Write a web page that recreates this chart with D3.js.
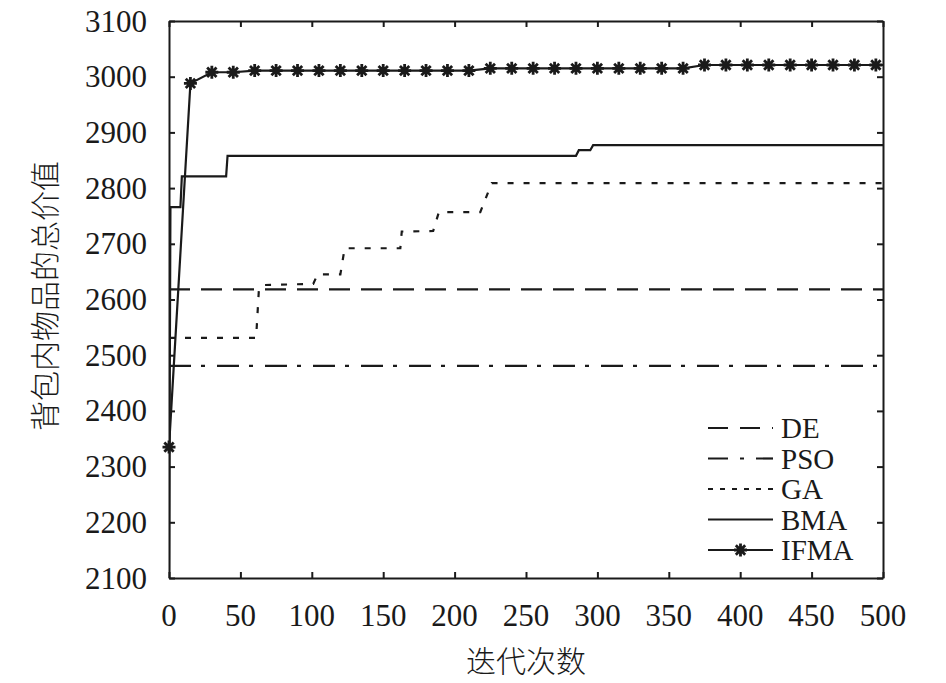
<!DOCTYPE html>
<html>
<head>
<meta charset="utf-8">
<script src="https://cdn.jsdelivr.net/npm/d3@7"></script>
<style>
  body { margin: 0; background: #fff; }
  .tick-label { font-family: "Liberation Serif", "Times New Roman", serif; font-size: 31px; fill: #1a1a1a; }
  .legend-label { font-family: "Liberation Serif", "Times New Roman", serif; font-size: 29px; fill: #1a1a1a; }
  .axis-title { font-family: "Noto Sans CJK SC", sans-serif; font-weight: 300; font-size: 30px; fill: #1a1a1a; }
  .curve { fill: none; stroke: #1a1a1a; stroke-width: 2.2; }
</style>
</head>
<body>
<script>
'use strict';

// x ticks and y ticks as they appear on the figure
const xTicks = [0, 50, 100, 150, 200, 250, 300, 350, 400, 450, 500];
const yTicks = [2100, 2200, 2300, 2400, 2500, 2600, 2700, 2800, 2900, 3000, 3100];

// series as [iteration, value]
const deValues  = [[0, 2618], [500, 2618]];
const psoValues = [[0, 2481], [500, 2481]];
const gaValues  = [[0, 2531], [61, 2531], [63, 2620], [66, 2626], [101, 2628], [104, 2645],
                   [120, 2645], [123, 2692], [162, 2692], [163, 2722], [185, 2723], [189, 2757],
                   [218, 2757], [226, 2809], [500, 2809]];
const bmaValues = [[0, 2100], [1, 2766], [8, 2766], [9, 2821], [40, 2821], [41, 2858],
                   [285, 2858], [287, 2868], [295, 2868], [297, 2877], [500, 2877]];
// IFMA was sampled every 15 iterations (one marker each), plus the end point
const ifmaIters  = [0, 15, 30, 45, 60, 75, 90, 105, 120, 135, 150, 165, 180, 195, 210, 225,
                    240, 255, 270, 285, 300, 315, 330, 345, 360, 375, 390, 405, 420, 435, 450,
                    465, 480, 495, 500];
const ifmaValues = [2335, 2988, 3008, 3008, 3011, 3011, 3011, 3011, 3011, 3011, 3011, 3011,
                    3011, 3011, 3011, 3015, 3015, 3015, 3015, 3015, 3015, 3015, 3015, 3015,
                    3015, 3021, 3021, 3021, 3021, 3021, 3021, 3021, 3021, 3021, 3021];

const seriesNames = ["DE", "PSO", "GA", "BMA", "IFMA"];

const width = 946, height = 683;
const plotLeft = 169, plotRight = 883, plotTop = 21, plotBottom = 578;

const x = d3.scaleLinear([0, 500], [plotLeft, plotRight]);
const y = d3.scaleLinear([2100, 3100], [plotBottom, plotTop]);

const svg = d3.select("body").append("svg")
  .attr("width", width)
  .attr("height", height);

svg.append("defs").append("clipPath")
  .attr("id", "plot-clip")
  .append("rect")
  .attr("x", plotLeft).attr("y", plotTop)
  .attr("width", plotRight - plotLeft).attr("height", plotBottom - plotTop);

const line = d3.line(d => x(d[0]), d => y(d[1]));

const styles = {
  DE:   { dash: "21,11", legendDash: "20,12" },
  PSO:  { dash: "22,10,4,12", legendDash: "20,12,4,12" },
  GA:   { dash: "6,10", legendDash: "5,7" },
  BMA:  { dash: null, legendDash: null },
  IFMA: { dash: null, legendDash: null },
};

const ifmaData = ifmaIters.map((it, i) => [it, ifmaValues[i]]);
const allData = { DE: deValues, PSO: psoValues, GA: gaValues, BMA: bmaValues, IFMA: ifmaData };

// asterisk marker like matlab '*'
function starPath(cx, cy, r) {
  const d = r * 0.72;
  return `M${cx - r},${cy}L${cx + r},${cy}M${cx},${cy - r}L${cx},${cy + r}` +
         `M${cx - d},${cy - d}L${cx + d},${cy + d}M${cx - d},${cy + d}L${cx + d},${cy - d}`;
}

const g = svg.append("g").attr("clip-path", "url(#plot-clip)");

for (const name of seriesNames) {
  g.append("path")
    .datum(allData[name])
    .attr("class", "curve")
    .attr("stroke-dasharray", styles[name].dash)
    .attr("d", line);
}

// IFMA markers, only on the sampled points
svg.append("g").selectAll(".marker")
  .data(ifmaData.filter(d => d[0] % 15 === 0))
  .join("path")
  .attr("class", "marker")
  .attr("fill", "none")
  .attr("stroke", "#1a1a1a")
  .attr("stroke-width", 2.8)
  .attr("d", d => starPath(x(d[0]), y(d[1]), 6.5));

// frame with inward ticks on all four sides
const tickLen = 6;
svg.append("g").attr("transform", `translate(0,${plotBottom})`)
  .call(d3.axisBottom(x).tickValues(xTicks).tickSizeInner(-tickLen).tickSizeOuter(0).tickFormat(""));
svg.append("g").attr("transform", `translate(0,${plotTop})`)
  .call(d3.axisTop(x).tickValues(xTicks).tickSizeInner(-tickLen).tickSizeOuter(0).tickFormat(""));
svg.append("g").attr("transform", `translate(${plotLeft},0)`)
  .call(d3.axisLeft(y).tickValues(yTicks).tickSizeInner(-tickLen).tickSizeOuter(0).tickFormat(""));
svg.append("g").attr("transform", `translate(${plotRight},0)`)
  .call(d3.axisRight(y).tickValues(yTicks).tickSizeInner(-tickLen).tickSizeOuter(0).tickFormat(""));
svg.selectAll(".domain, .tick line")
  .attr("stroke", "#1a1a1a")
  .attr("stroke-width", 2);

// tick labels
svg.append("g").selectAll("text")
  .data(xTicks)
  .join("text")
  .attr("class", "tick-label")
  .attr("x", d => x(d))
  .attr("y", 626)
  .attr("text-anchor", "middle")
  .text(d => d);

svg.append("g").selectAll("text")
  .data(yTicks)
  .join("text")
  .attr("class", "tick-label")
  .attr("x", 147)
  .attr("y", d => y(d) + 10.5)
  .attr("text-anchor", "end")
  .text(d => d);

// axis titles
svg.append("text")
  .attr("class", "axis-title")
  .attr("x", (plotLeft + plotRight) / 2)
  .attr("y", 672)
  .attr("text-anchor", "middle")
  .text("迭代次数");

svg.append("text")
  .attr("class", "axis-title")
  .attr("transform", "translate(56,296) rotate(-90)")
  .attr("text-anchor", "middle")
  .text("背包内物品的总价值");

// legend
const legendY = d3.scalePoint(seriesNames, [428, 550]);
const legend = svg.append("g");
for (const name of seriesNames) {
  const ly = legendY(name);
  legend.append("line")
    .attr("class", "curve")
    .attr("x1", 708).attr("x2", 773)
    .attr("y1", ly).attr("y2", ly)
    .attr("stroke-dasharray", styles[name].legendDash);
  if (name === "IFMA") {
    legend.append("path")
      .attr("fill", "none")
      .attr("stroke", "#1a1a1a")
      .attr("stroke-width", 2.8)
      .attr("d", starPath(740.5, ly, 6.5));
  }
  legend.append("text")
    .attr("class", "legend-label")
    .attr("x", 781)
    .attr("y", ly + 10)
    .text(name);
}
</script>
</body>
</html>
